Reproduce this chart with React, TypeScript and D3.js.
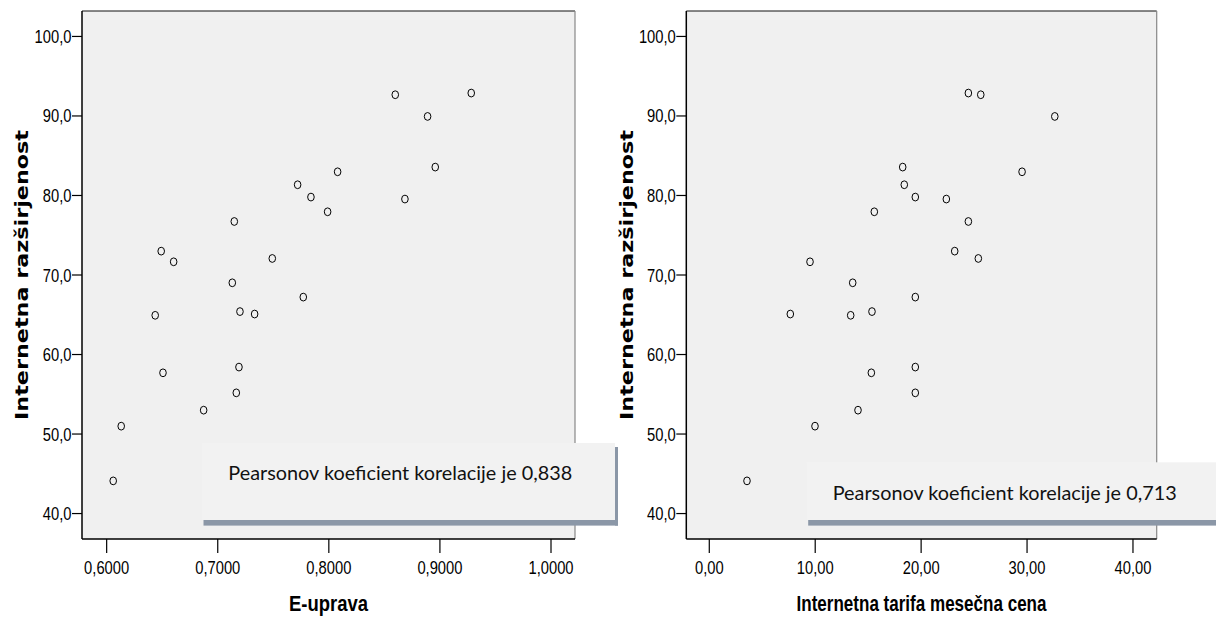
import React from 'react'
import * as d3 from 'd3'

// Internet penetration (%), same for both panels
const penetration = [92.67, 92.88, 89.94, 83.57, 82.98, 81.35, 79.8, 77.95, 79.55, 76.73, 73.0, 71.66, 72.08, 69.02, 67.22, 64.93, 65.4, 65.09, 57.7, 58.42, 55.18, 53.0, 50.99, 44.11]
// E-government index
const eGov = [0.8598, 0.9282, 0.8889, 0.8958, 0.8079, 0.7719, 0.7839, 0.7989, 0.8685, 0.7149, 0.6491, 0.6603, 0.7491, 0.7131, 0.777, 0.6437, 0.72, 0.7332, 0.6507, 0.7191, 0.7167, 0.6873, 0.6131, 0.6059]
// Monthly internet tariff
const tariff = [25.63, 24.46, 32.62, 18.26, 29.53, 18.41, 19.45, 15.58, 22.38, 24.46, 23.17, 9.51, 25.4, 13.54, 19.45, 13.35, 15.36, 7.65, 15.3, 19.45, 19.45, 14.04, 9.98, 3.56]

const yTicks = [40, 50, 60, 70, 80, 90, 100]
const eGovTicks = [0.6, 0.7, 0.8, 0.9, 1.0]
const tariffTicks = [0, 10, 20, 30, 40]

const yTitle = 'Internetna razširjenost'
const pearsonLeft = 'Pearsonov koeficient korelacije je 0,838'
const pearsonRight = 'Pearsonov koeficient korelacije je 0,713'

const locale = d3.formatLocale({ decimal: ',', thousands: '.', grouping: [3], currency: ['', ''] })

// no narrow font installed, so squeeze Liberation Sans horizontally
const tickFont = "'Liberation Sans', Arial, sans-serif"
const squeeze = 0.82

function Scatter({ left, right, xDomain, xs, xTicks, xFmt, xTitle, xTitleLen, yTitleX }) {
  const top = 11, bottom = 539
  const x = d3.scaleLinear().domain(xDomain).range([left, right])
  const y = d3.scaleLinear().domain([36.8, 103.2]).range([bottom, top])
  const fy = locale.format('.1f')
  const fx = locale.format(xFmt)
  const cy = (top + bottom) / 2

  return (
    <g>
      <rect x={left} y={top} width={right - left} height={bottom - top} fill="#f0f0f0" />
      <line x1={left} x2={right} y1={top} y2={top} stroke="#111" strokeWidth={1} />
      <line x1={right} x2={right} y1={top} y2={bottom} stroke="#888" strokeWidth={1.2} />

      {xs.map((v, i) => (
        <ellipse key={i} cx={x(v)} cy={y(penetration[i])} rx={3.3} ry={3.9}
          fill="none" stroke="#000" strokeWidth={1} />
      ))}

      {/* y axis */}
      <line x1={left} x2={left} y1={top} y2={bottom} stroke="#000" strokeWidth={1.5} />
      {yTicks.map(t => (
        <g key={t}>
          <line x1={left - 10} x2={left} y1={y(t)} y2={y(t)} stroke="#000" strokeWidth={1.2} />
          <text transform={`translate(${left - 10.5},${y(t) + 6.5}) scale(${squeeze},1)`} textAnchor="end"
            fontFamily={tickFont} fontSize={18} fill="#000">{fy(t)}</text>
        </g>
      ))}

      {/* x axis */}
      <line x1={left} x2={right} y1={bottom} y2={bottom} stroke="#000" strokeWidth={1.5} />
      {xTicks.map(t => (
        <g key={t}>
          <line x1={x(t)} x2={x(t)} y1={bottom} y2={bottom + 14} stroke="#000" strokeWidth={1.2} />
          <text transform={`translate(${x(t)},574) scale(${squeeze},1)`} textAnchor="middle"
            fontFamily={tickFont} fontSize={18} fill="#000">{fx(t)}</text>
        </g>
      ))}

      <text x={(left + right) / 2} y={611} textAnchor="middle" fontFamily={tickFont} fontWeight="bold"
        fontSize={22} textLength={xTitleLen} lengthAdjust="spacingAndGlyphs" fill="#000">{xTitle}</text>

      <text transform={`translate(${yTitleX},${cy}) rotate(-90)`} textAnchor="middle"
        fontFamily="'DejaVu Sans', sans-serif" fontWeight="bold" fontSize={18}
        textLength={290} lengthAdjust="spacingAndGlyphs" fill="#000">{yTitle}</text>
    </g>
  )
}

function NoteBox({ x0, x1, y0, y1, text, tx, ty, rightShadow }) {
  return (
    <g>
      <rect x={x0} y={y0} width={x1 - x0} height={y1 - y0} fill="#f2f2f2" />
      <rect x={x0 + 1.5} y={y1} width={x1 - x0 + (rightShadow ? 1.5 : 0)} height={5.6} fill="#8b97a7" />
      {rightShadow && <rect x={x1} y={y0 + 4} width={3} height={y1 - y0 + 1.6} fill="#8b97a7" />}
      <text x={tx} y={ty} fontFamily="Lato, 'Open Sans', sans-serif" fontSize={19}
        textLength={344} lengthAdjust="spacingAndGlyphs" fill="#111">{text}</text>
    </g>
  )
}

export default function App() {
  return (
    <svg width={1216} height={617} style={{ position: 'absolute', left: 0, top: 0, background: '#fff' }}>
      <Scatter left={82} right={575} xDomain={[0.5778, 1.0216]} xs={eGov} xTicks={eGovTicks}
        xFmt=".4f" xTitle="E-uprava" xTitleLen={79} yTitleX={28} />
      <Scatter left={686.3} right={1156.7} xDomain={[-2.17, 42.24]} xs={tariff} xTicks={tariffTicks}
        xFmt=".2f" xTitle="Internetna tarifa mesečna cena" xTitleLen={250} yTitleX={633} />
      <NoteBox x0={202} x1={615} y0={443} y1={520} text={pearsonLeft} tx={228.3} ty={480} rightShadow />
      <NoteBox x0={806.7} x1={1216} y0={462.3} y1={520} text={pearsonRight} tx={832.7} ty={499.5} rightShadow={false} />
    </svg>
  )
}
